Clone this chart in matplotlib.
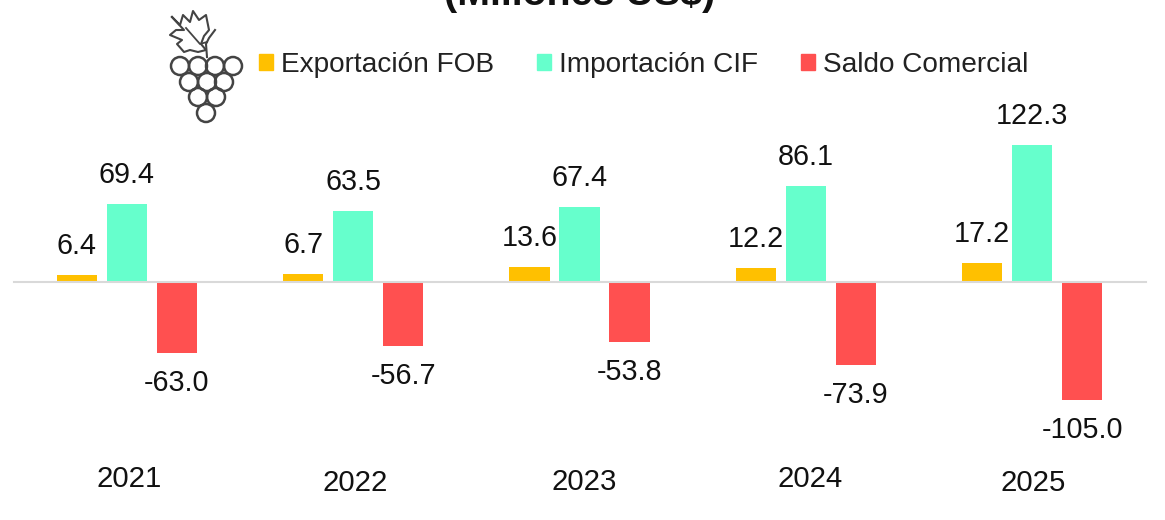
import numpy as np
import matplotlib
matplotlib.use("Agg")
import matplotlib.pyplot as plt
from matplotlib.patches import Circle, Patch

plt.rcParams['font.family'] = ['Liberation Sans', 'DejaVu Sans']

# datos
anios = ["2021", "2022", "2023", "2024", "2025"]
exportacion = [6.4, 6.7, 13.6, 12.2, 17.2]
importacion = [69.4, 63.5, 67.4, 86.1, 122.3]
saldo = [-63.0, -56.7, -53.8, -73.9, -105.0]
series = ["Exportación FOB", "Importación CIF", "Saldo Comercial"]
colores = ["#FFC000", "#66FFCC", "#FF5050"]

W, H = 1165, 520
fig = plt.figure(figsize=(W / 100, H / 100), dpi=100)

# eje principal, linea cero en y=282 px
top_px, bot_px = 30, 460
ax = fig.add_axes([13.5 / W, 1 - bot_px / H, 1132 / W, (bot_px - top_px) / H])
esc = 1.12
ax.set_ylim(-(bot_px - 282) / esc, (282 - top_px) / esc)
ax.set_xlim(-0.5, 4.5)

x = np.arange(len(anios))
ancho = 0.177
paso = 0.221
for i, vals in enumerate([exportacion, importacion, saldo]):
    pos = x + (i - 1) * paso
    ax.bar(pos, vals, ancho, color=colores[i], zorder=2)
    for xp, v in zip(pos, vals):
        ax.annotate(f"{v:.1f}", (xp, v), xytext=(0, 29 if v > 0 else -30),
                    textcoords='offset pixels', ha='center', va='center',
                    fontsize=20.7, color='#111111')

for s in ['top', 'left', 'right']:
    ax.spines[s].set_visible(False)
ax.spines['bottom'].set_position(('data', 0))
ax.spines['bottom'].set_color('#D9D9D9')
ax.spines['bottom'].set_linewidth(1.5)
ax.set_xticks([])
ax.set_yticks([])
ax.patch.set_alpha(0)

# capa en pixeles para lo demas
capa = fig.add_axes([0, 0, 1, 1])
capa.set_xlim(0, W)
capa.set_ylim(H, 0)
capa.axis('off')

# el titulo sale cortado arriba igual que en el original
capa.text(580, 5, "(Millones US$)", fontsize=28.4, fontweight='bold',
          ha='center', va='baseline', color='#111111')

# anios puestos a mano, no estan alineados en el original
anio_x = [129, 355, 584, 810, 1033]
anio_y = [479, 483, 482, 479, 483]
for a, xa, ya in zip(anios, anio_x, anio_y):
    capa.text(xa, ya, a, fontsize=21.2, ha='center', va='center', color='#111111')

# leyenda
marcas = [Patch(color=c) for c in colores]
capa.legend(marcas, series, loc='center left', bbox_to_anchor=(259 / W, 1 - 65 / H),
            ncol=3, frameon=False, fontsize=20.2, labelcolor='#222222',
            handlelength=0.5, handleheight=0.5, handletextpad=0.29,
            columnspacing=1.53, borderpad=0, borderaxespad=0)

# icono de la uva
uvas_x = [180, 198, 215, 233, 189, 207, 224, 198, 216, 206]
uvas_y = [66, 66, 66, 66, 82, 82, 82, 97, 97, 113]
for ux, uy in zip(uvas_x, uvas_y):
    capa.add_patch(Circle((ux, uy), 9, fill=False, ec='#444444', lw=1.8))
hoja_x = [172, 180, 183, 190, 193, 199, 206, 209, 204, 201, 206, 198, 190, 184,
          177, 182, 170, 176, 184, 172]
hoja_y = [17, 25, 15, 22, 11, 20, 15, 30, 36, 44, 50, 52, 50, 52,
          44, 40, 35, 30, 30, 17]
capa.plot(hoja_x, hoja_y, color='#444444', lw=1.5)
capa.plot([186, 200, 207], [28, 44, 42], color='#444444', lw=1.3)
capa.plot([207, 206, 209, 215], [57, 44, 38, 30], color='#444444', lw=1.5)

fig.savefig("out.png", dpi=100)
